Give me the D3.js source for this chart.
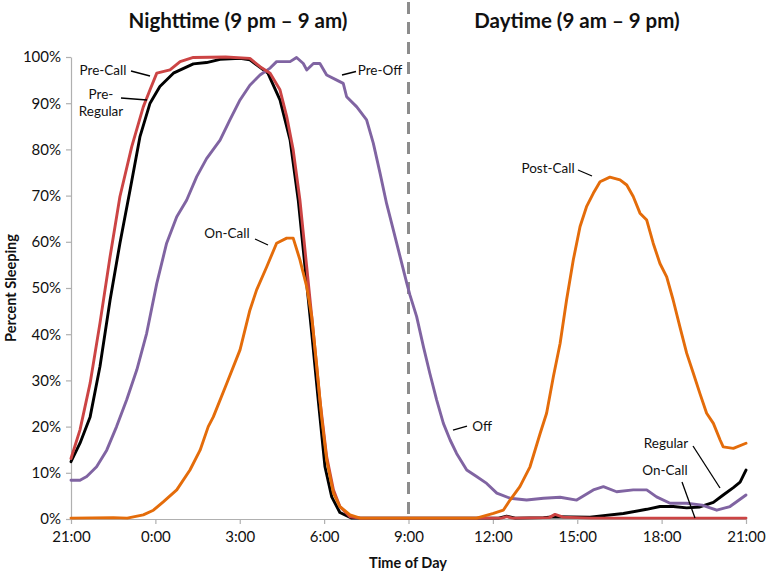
<!DOCTYPE html>
<html>
<head>
<meta charset="utf-8">
<script src="https://cdn.jsdelivr.net/npm/d3@7"></script>
<style>
  html, body { margin: 0; padding: 0; background: #fff; }
  svg { display: block; }
  text { font-family: Lato, "Open Sans", "Liberation Sans", sans-serif; fill: #111; }
</style>
</head>
<body>
<svg id="chart" width="769" height="574"></svg>
<script>
// ---- Data (hours after 21:00, percent sleeping) ----
const xTickHours = [0, 3, 6, 9, 12, 15, 18, 21, 24];
const xTickLabels = ["21:00", "0:00", "3:00", "6:00", "9:00", "12:00", "15:00", "18:00", "21:00"];
const yTickValues = [0, 10, 20, 30, 40, 50, 60, 70, 80, 90, 100];
const panelTitles = ["Nighttime (9 pm \u2013 9 am)", "Daytime (9 am \u2013 9 pm)"];

// Pre-Call (night) -> On-Call (day), red
const preCallOnCall = [
  [0,13.1],[0.32,19.3],[0.68,29.4],[1.03,42.4],[1.39,56.8],[1.74,69.8],[2.16,80.6],[2.57,89.2],
  [2.81,92.9],[3.05,96.5],[3.52,97.2],[3.88,99.0],[4.35,99.9],[5.5,100],[6.36,99.7],[6.72,97.9],
  [7.08,96.5],[7.43,92.9],[7.67,87.1],[7.90,79.9],[8.14,69.0],[8.38,54.6],[8.62,40.2],[8.85,25.8],
  [9.09,13.5],[9.33,6.3],[9.56,2.7],[9.92,0.5],[10.28,0.2],[15.3,0.2],[15.49,0.5],[15.7,0.2],
  [17.0,0.3],[17.21,1.0],[17.5,0.4],[18.5,0.2],[24,0.2]
];
// Pre-Regular (night) -> Regular (day), black
const preRegularRegular = [
  [0,12.4],[0.32,16.4],[0.68,22.1],[1.03,33.0],[1.39,47.4],[1.74,59.7],[2.10,71.2],[2.45,82.7],
  [2.81,90.0],[3.16,93.6],[3.64,96.5],[4.35,98.5],[4.82,98.8],[5.30,99.5],[6.01,99.7],[6.36,99.4],
  [7.0,96.5],[7.43,90.7],[7.79,82.0],[8.08,69.0],[8.32,54.6],[8.56,40.2],[8.79,25.8],[9.03,11.3],
  [9.27,4.8],[9.56,1.4],[9.98,0.2],[15.2,0.2],[15.49,0.6],[15.8,0.2],[16.8,0.3],[17.2,0.5],
  [18.45,0.4],[19.64,1.2],[20.47,2.1],[20.94,2.7],[21.41,2.7],[21.89,2.4],[22.36,2.6],[22.84,3.6],
  [23.19,5.2],[23.55,6.8],[23.79,8.0],[24,10.6]
];
// Pre-Off (night) -> Off (day), purple
const preOffOff = [
  [0,8.4],[0.32,8.4],[0.56,9.2],[0.91,11.3],[1.27,14.9],[1.62,20.0],[1.98,25.8],[2.34,32.3],
  [2.69,40.2],[3.05,51.0],[3.40,59.7],[3.76,65.4],[4.11,69.0],[4.47,74.1],[4.82,78.0],[5.30,82.0],
  [5.65,86.4],[6.01,90.7],[6.36,93.9],[6.72,96.1],[7.08,97.6],[7.31,99.0],[7.79,99.0],[8.02,99.9],
  [8.26,98.6],[8.38,97.2],[8.62,98.6],[8.85,98.6],[9.09,96.1],[9.45,95.0],[9.68,94.3],[9.80,91.4],
  [10.16,89.2],[10.51,86.4],[10.75,81.3],[10.99,74.8],[11.22,68.3],[11.46,62.6],[11.70,56.8],
  [11.94,51.0],[12.05,48.5],[12.29,43.8],[12.53,37.3],[12.76,31.5],[13.00,25.8],[13.24,20.7],
  [13.48,17.1],[13.71,14.2],[14.07,10.6],[14.42,9.2],[14.78,7.7],[15.14,5.6],[15.61,4.5],
  [16.20,4.1],[16.80,4.5],[17.39,4.7],[17.98,4.1],[18.57,6.3],[18.93,7.0],[19.40,5.9],[19.99,6.3],
  [20.47,6.3],[20.82,4.8],[21.30,3.4],[21.89,3.4],[22.44,3.0],[22.96,1.9],[23.43,2.7],[24,5.2]
];
// On-Call (night) -> Post-Call (day), orange
const onCallPostCall = [
  [0,0.2],[1.5,0.3],[2.0,0.2],[2.57,0.9],[2.93,1.9],[3.28,3.7],[3.76,6.3],[4.23,10.6],[4.59,14.9],
  [4.88,20.0],[5.06,22.1],[5.54,29.4],[6.01,36.6],[6.36,45.2],[6.60,49.6],[6.96,54.6],[7.31,59.7],
  [7.67,60.8],[7.90,60.8],[8.14,56.1],[8.38,50.3],[8.56,43.8],[8.74,33.0],[8.91,22.1],[9.09,12.8],
  [9.33,5.6],[9.56,2.7],[9.92,0.9],[10.28,0.2],[14.42,0.2],[15.02,1.2],[15.37,1.9],[15.61,4.1],
  [15.96,7.0],[16.32,11.3],[16.68,18.5],[16.91,22.9],[17.15,30.8],[17.39,38.0],[17.62,47.4],
  [17.86,56.1],[18.10,63.3],[18.33,67.6],[18.57,70.5],[18.81,73.0],[19.16,74.0],[19.52,73.4],
  [19.76,72.3],[19.99,69.8],[20.23,66.2],[20.47,64.7],[20.70,59.7],[20.94,55.3],[21.18,52.4],
  [21.41,47.4],[21.65,41.6],[21.89,35.9],[22.13,31.5],[22.36,27.2],[22.60,22.9],[22.84,20.7],
  [23.08,17.1],[23.19,15.6],[23.55,15.3],[24,16.4]
];

const seriesList = [
  { name: "Pre-Regular / Regular", values: preRegularRegular, color: "#000000" },
  { name: "Pre-Off / Off", values: preOffOff, color: "#8064A2" },
  { name: "Pre-Call / On-Call", values: preCallOnCall, color: "#CC4444" },
  { name: "On-Call / Post-Call", values: onCallPostCall, color: "#E46C0A" }
];

// ---- Layout ----
const svg = d3.select("#chart");
const x = d3.scaleLinear().domain([0, 24]).range([71, 746]);
const y = d3.scaleLinear().domain([0, 100]).range([519, 57]);
const axisColor = "#b0b0b0";
const fontStack = "Lato, 'Open Sans', sans-serif";

// Axes
const xAxis = d3.axisBottom(x).tickValues(xTickHours)
  .tickFormat((d, i) => xTickLabels[i]).tickSize(5).tickSizeOuter(0);
const gx = svg.append("g").attr("transform", `translate(0,${y(0)})`).call(xAxis);
gx.select(".domain").attr("stroke", axisColor).attr("stroke-width", 1.2);
gx.selectAll(".tick line").attr("stroke", axisColor).attr("stroke-width", 1.2);
gx.selectAll(".tick text").attr("font-size", 15).attr("dy", "1.0em")
  .style("font-family", fontStack).attr("fill", "#111");

const yAxis = d3.axisLeft(y).tickValues(yTickValues)
  .tickFormat(d => d + "%").tickSize(5).tickSizeOuter(0);
const gy = svg.append("g").attr("transform", `translate(${x(0)},0)`).call(yAxis);
gy.select(".domain").attr("stroke", axisColor).attr("stroke-width", 1.2);
gy.selectAll(".tick line").attr("stroke", axisColor).attr("stroke-width", 1.2);
gy.selectAll(".tick text").attr("font-size", 15).attr("x", -10)
  .style("font-family", fontStack).attr("fill", "#111");

// Dashed divider at 9:00
svg.append("line")
  .attr("x1", x(12)).attr("x2", x(12))
  .attr("y1", 2).attr("y2", y(0))
  .attr("stroke", "#8c8c8c").attr("stroke-width", 3)
  .attr("stroke-dasharray", "12,8");

// Lines
const line = d3.line().x(d => x(d[0])).y(d => y(d[1]));
svg.append("g").selectAll("path").data(seriesList).join("path")
  .attr("d", d => line(d.values))
  .attr("fill", "none")
  .attr("stroke", d => d.color)
  .attr("stroke-width", 2.9)
  .attr("stroke-linejoin", "round")
  .attr("stroke-linecap", "round");

// Titles
svg.append("text").attr("x", 238).attr("y", 28).attr("text-anchor", "middle")
  .attr("font-size", 20.5).attr("font-weight", "bold").text(panelTitles[0]);
svg.append("text").attr("x", 577).attr("y", 28).attr("text-anchor", "middle")
  .attr("font-size", 20.5).attr("font-weight", "bold").text(panelTitles[1]);

// Axis titles
svg.append("text").attr("x", 408).attr("y", 568).attr("text-anchor", "middle")
  .attr("font-size", 14.5).attr("font-weight", "bold").text("Time of Day");
svg.append("text").attr("transform", `translate(16,${(y(0) + y(100)) / 2}) rotate(-90)`)
  .attr("text-anchor", "middle").attr("font-size", 14.5).attr("font-weight", "bold")
  .text("Percent Sleeping");

// Annotations (label text, label anchor, leader line)
const annotations = [
  { lines: ["Pre-Call"], tx: 103, ty: 75, l: [131, 71, 150, 76] },
  { lines: ["Pre-", "Regular"], tx: 101, ty: 99, l: [121, 98, 147, 100] },
  { lines: ["Pre-Off"], tx: 380, ty: 75, l: [342, 75, 356, 71.5] },
  { lines: ["On-Call"], tx: 227, ty: 238, l: [255, 239, 268, 245] },
  { lines: ["Off"], tx: 482, ty: 431, l: [453, 430, 467, 426] },
  { lines: ["Post-Call"], tx: 548, ty: 173, l: [578, 170, 592, 176] },
  { lines: ["Regular"], tx: 666, ty: 448, l: [693, 446, 720, 488] },
  { lines: ["On-Call"], tx: 665, ty: 475, l: [682, 482, 695, 518] }
];
const ann = svg.append("g");
annotations.forEach(a => {
  const t = ann.append("text").attr("text-anchor", "middle").attr("font-size", 13.5);
  a.lines.forEach((s, i) => {
    t.append("tspan").attr("x", a.tx).attr("y", a.ty + i * 17).text(s);
  });
  ann.append("line").attr("x1", a.l[0]).attr("y1", a.l[1]).attr("x2", a.l[2]).attr("y2", a.l[3])
    .attr("stroke", "#000").attr("stroke-width", 1.3);
});
</script>
</body>
</html>
